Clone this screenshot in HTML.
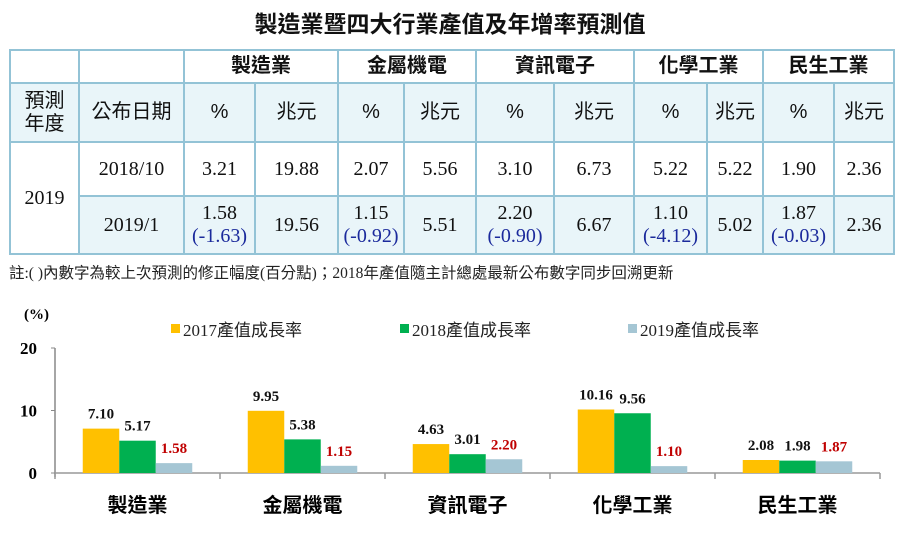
<!DOCTYPE html>
<html><head><meta charset="utf-8"><style>
body{margin:0;width:900px;height:545px;background:#fff;position:relative;overflow:hidden;font-family:"Liberation Serif","Noto Sans CJK TC",serif;}
#title{position:absolute;left:0;top:5px;width:900px;text-align:center;font:bold 23px "Liberation Sans","Noto Sans CJK TC",sans-serif;color:#111;}
table{position:absolute;left:9px;top:49px;border-collapse:collapse;table-layout:fixed;}
td{border:2px solid #93c3d6;text-align:center;padding:0;font-size:20px;color:#111;line-height:23px;}
.cj{font-family:"Liberation Sans","Noto Sans CJK TC",sans-serif;}
.h td{font-weight:bold;font-family:"Liberation Sans","Noto Sans CJK TC",sans-serif;font-size:20px;}
.b{background:#e9f5f9;}
.blue{color:#1b2a9c;}
#note{position:absolute;left:9px;top:261px;font-size:15.5px;color:#222;font-family:"Liberation Serif","Noto Sans CJK TC",serif;}
</style></head><body>
<div id="title">製造業暨四大行業產值及年增率預測值</div>
<table>
<colgroup><col style="width:69px"><col style="width:105px"><col style="width:71px"><col style="width:83px"><col style="width:66px"><col style="width:72px"><col style="width:78px"><col style="width:80px"><col style="width:73px"><col style="width:56px"><col style="width:71px"><col style="width:60px"></colgroup>
<tr class="h" style="height:33px"><td></td><td></td><td colspan="2">製造業</td><td colspan="2">金屬機電</td><td colspan="2">資訊電子</td><td colspan="2">化學工業</td><td colspan="2">民生工業</td></tr>
<tr class="b cj" style="height:59px"><td class="cj">預測<br>年度</td><td class="cj">公布日期</td><td>%</td><td class="cj">兆元</td><td>%</td><td class="cj">兆元</td><td>%</td><td class="cj">兆元</td><td>%</td><td class="cj">兆元</td><td>%</td><td class="cj">兆元</td></tr>
<tr style="height:54px"><td rowspan="2">2019</td><td>2018/10</td><td>3.21</td><td>19.88</td><td>2.07</td><td>5.56</td><td>3.10</td><td>6.73</td><td>5.22</td><td>5.22</td><td>1.90</td><td>2.36</td></tr>
<tr class="b" style="height:58px"><td>2019/1</td><td>1.58<br><span class="blue">(-1.63)</span></td><td>19.56</td><td>1.15<br><span class="blue">(-0.92)</span></td><td>5.51</td><td>2.20<br><span class="blue">(-0.90)</span></td><td>6.67</td><td>1.10<br><span class="blue">(-4.12)</span></td><td>5.02</td><td>1.87<br><span class="blue">(-0.03)</span></td><td>2.36</td></tr>
</table>
<div id="note">註:( )內數字為較上次預測的修正幅度(百分點)；2018年產值隨主計總處最新公布數字同步回溯更新</div>
<svg id="chart" width="900" height="545" style="position:absolute;left:0;top:0"></svg>
<script>
const categories=["製造業","金屬機電","資訊電子","化學工業","民生工業"];
const s2017=[7.10,9.95,4.63,10.16,2.08];
const s2018=[5.17,5.38,3.01,9.56,1.98];
const s2019=[1.58,1.15,2.20,1.10,1.87];
const yTicks=[0,10,20];
const seriesNames=["2017產值成長率","2018產值成長率","2019產值成長率"];
const svg=document.getElementById('chart');
const NS="http://www.w3.org/2000/svg";
const x0=55,gw=165,bw=36.5,y0=473,ppu=6.25;
const y=v=>y0-v*ppu;
function mk(t,a,txt){const e=document.createElementNS(NS,t);for(const k in a)e.setAttribute(k,a[k]);if(txt!=null)e.textContent=txt;svg.appendChild(e);return e;}
const ax=mk('line',{x1:x0,y1:y(20),x2:x0,y2:y0+4,stroke:'#888','stroke-width':1.5});


const bx=mk('line',{x1:x0,y1:y0,x2:x0+gw*categories.length,y2:y0,stroke:'#999','stroke-width':1.5});


for(let i=0;i<=categories.length;i++){const t=mk('line',{x1:x0+gw*i,y1:y0,x2:x0+gw*i,y2:y0+6,stroke:'#999','stroke-width':1.5});

}
yTicks.forEach(v=>{const t=mk('text',{x:x0-18,y:y(v)+6,'text-anchor':'end','font-size':17,'font-weight':'bold','font-family':'Liberation Serif'},String(v));


const m=mk('line',{x1:x0-4,y1:y(v),x2:x0,y2:y(v),stroke:'#888'});

});
const yt=mk('text',{x:24,y:319,'font-size':15,'font-weight':'bold','font-family':'Liberation Serif'},'(%)');


const series=[s2017,s2018,s2019],colors=['#FFC000','#00B050','#A5C6D4'],lc=['#111','#111','#C00000'];
categories.forEach((c,i)=>{
 const cx=x0+gw*i+gw/2;
 series.forEach((s,j)=>{
  const bxp=cx-bw*1.5+bw*j;
  const r=mk('rect',{x:bxp,y:y(s[i]),width:bw,height:s[i]*ppu,fill:colors[j]});
  
  
  const l=mk('text',{x:bxp+bw/2,y:y(s[i])-10,'text-anchor':'middle','font-size':15,'font-weight':'bold','font-family':'Liberation Serif',fill:lc[j]},s[i].toFixed(2));
  
  
 });
 const t=mk('text',{x:cx,y:512,'text-anchor':'middle','font-size':20,'font-weight':'bold','font-family':'Liberation Sans, Noto Sans CJK TC, sans-serif'},c);
 
 
});
const lx=[171,400,628];
seriesNames.forEach((n,j)=>{
 const r=mk('rect',{x:lx[j],y:324,width:9,height:9,fill:colors[j]});
 
 
 const t=mk('text',{x:lx[j]+12,y:336,'font-size':17,'font-family':'Liberation Serif, Noto Sans CJK TC, serif',fill:'#222'},n);
 
 
});
</script>
</body></html>
